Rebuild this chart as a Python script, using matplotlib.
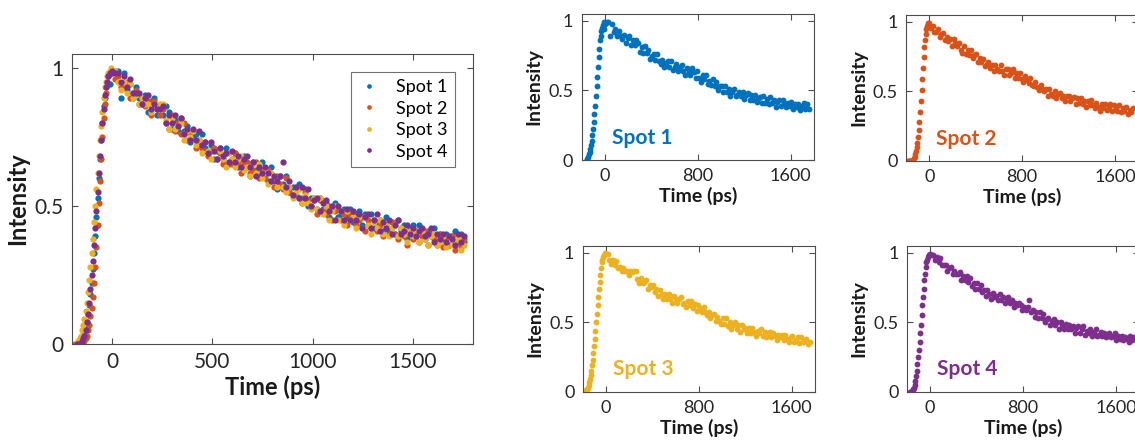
import numpy as np
import matplotlib
matplotlib.use("Agg")
import matplotlib.pyplot as plt

plt.rcParams['font.family'] = ['Lato', 'DejaVu Sans']

nan = np.nan

# time axis (ps): fine sampling over the rise, coarser over the decay
t_rise = [-186, -180, -174, -168, -162, -156, -150, -144, -138, -132,
          -126, -120, -114, -108, -102, -96, -90, -84, -78, -72,
          -66, -60, -54, -48, -42, -36, -30, -24, -18, -12,
          -6, 0]
t_decay = [15, 30, 45, 60, 75, 90, 105, 120, 135, 150,
           165, 180, 195, 210, 225, 240, 255, 270, 285, 300,
           315, 330, 345, 360, 375, 390, 405, 420, 435, 450,
           465, 480, 495, 510, 525, 540, 555, 570, 585, 600,
           615, 630, 645, 660, 675, 690, 705, 720, 735, 750,
           765, 780, 795, 810, 825, 840, 855, 870, 885, 900,
           915, 930, 945, 960, 975, 990, 1005, 1020, 1035, 1050,
           1065, 1080, 1095, 1110, 1125, 1140, 1155, 1170, 1185, 1200,
           1215, 1230, 1245, 1260, 1275, 1290, 1305, 1320, 1335, 1350,
           1365, 1380, 1395, 1410, 1425, 1440, 1455, 1470, 1485, 1500,
           1515, 1530, 1545, 1560, 1575, 1590, 1605, 1620, 1635, 1650,
           1665, 1680, 1695, 1710, 1725, 1740, 1755]

# normalised intensity, spot 1
spot1_rise = [nan, nan, nan, nan, nan, 0.00, 0.01, 0.02, 0.04, 0.06,
              0.08, 0.11, 0.14, 0.18, 0.22, 0.27, 0.33, 0.39, 0.46, 0.53,
              0.60, 0.67, 0.74, 0.80, 0.86, 0.89, 0.93, 0.95, 0.97, 0.94,
              0.99, 0.98]
spot1_decay = [0.99, 0.99, 0.89, 0.98, 0.92, 0.94, 0.89, 0.93, 0.89, 0.87,
               0.90, 0.84, 0.88, 0.89, 0.83, 0.86, 0.83, 0.86, 0.84, 0.78,
               0.81, 0.77, 0.82, 0.77, 0.79, 0.73, 0.75, 0.76, 0.72, 0.76,
               0.71, 0.69, 0.72, 0.67, 0.70, 0.71, 0.67, 0.71, 0.65, 0.67,
               0.69, 0.64, 0.67, 0.68, 0.64, 0.61, 0.66, 0.63, 0.61, 0.66,
               0.63, 0.59, 0.64, 0.59, 0.56, 0.61, 0.58, 0.61, 0.55, 0.57,
               0.54, 0.58, 0.53, 0.56, 0.50, 0.53, 0.53, 0.49, 0.53, 0.49,
               0.51, 0.46, 0.49, 0.51, 0.46, 0.47, 0.49, 0.46, 0.49, 0.44,
               0.47, 0.48, 0.43, 0.47, 0.43, 0.47, 0.42, 0.44, 0.45, 0.41,
               0.46, 0.41, 0.44, 0.40, 0.45, 0.41, 0.43, 0.38, 0.42, 0.43,
               0.39, 0.43, 0.41, 0.38, 0.41, 0.39, 0.42, 0.37, 0.40, 0.38,
               0.40, 0.36, 0.39, 0.41, 0.37, 0.40, 0.37]

# spot 2
spot2_rise = [0.00, 0.00, 0.00, 0.00, 0.00, 0.00, 0.00, 0.00, 0.01, 0.02,
              0.03, 0.05, 0.07, 0.10, 0.13, 0.17, 0.22, 0.28, 0.35, 0.43,
              0.51, 0.59, 0.67, 0.75, 0.82, 0.87, 0.91, 0.95, 0.97, 0.98,
              0.99, 0.99]
spot2_decay = [0.96, 0.97, 0.93, 0.93, 0.95, 0.89, 0.91, 0.92, 0.87, 0.89,
               0.86, 0.88, 0.83, 0.88, 0.85, 0.83, 0.85, 0.80, 0.78, 0.83,
               0.77, 0.80, 0.76, 0.80, 0.74, 0.76, 0.77, 0.71, 0.74, 0.71,
               0.73, 0.68, 0.70, 0.71, 0.67, 0.69, 0.65, 0.69, 0.66, 0.65,
               0.69, 0.65, 0.62, 0.66, 0.66, 0.62, 0.63, 0.66, 0.60, 0.63,
               0.60, 0.63, 0.59, 0.57, 0.61, 0.58, 0.56, 0.60, 0.55, 0.54,
               0.57, 0.53, 0.51, 0.55, 0.52, 0.50, 0.52, 0.47, 0.52, 0.48,
               0.47, 0.50, 0.45, 0.48, 0.49, 0.45, 0.47, 0.43, 0.47, 0.47,
               0.43, 0.45, 0.46, 0.41, 0.45, 0.42, 0.45, 0.41, 0.43, 0.39,
               0.43, 0.40, 0.44, 0.40, 0.38, 0.42, 0.39, 0.36, 0.41, 0.38,
               0.41, 0.37, 0.39, 0.41, 0.36, 0.40, 0.38, 0.36, 0.40, 0.35,
               0.38, 0.36, 0.39, 0.34, 0.37, 0.35, 0.38]

# spot 3
spot3_rise = [nan, nan, 0.00, 0.01, 0.02, 0.03, 0.05, 0.07, 0.09, 0.12,
              0.15, 0.19, 0.23, 0.28, 0.33, 0.38, 0.44, 0.50, 0.56, 0.62,
              0.68, 0.74, 0.79, 0.84, 0.89, 0.93, 0.95, 0.97, 0.98, 0.99,
              1.00, 0.99]
spot3_decay = [0.99, 0.95, 0.92, 0.95, 0.91, 0.94, 0.89, 0.90, 0.87, 0.89,
               0.87, 0.87, 0.84, 0.87, 0.86, 0.87, 0.87, 0.81, 0.78, 0.82,
               0.78, 0.79, 0.80, 0.74, 0.77, 0.75, 0.77, 0.72, 0.74, 0.69,
               0.73, 0.70, 0.67, 0.70, 0.67, 0.70, 0.67, 0.64, 0.69, 0.67,
               0.64, 0.67, 0.68, 0.63, 0.64, 0.61, 0.65, 0.62, 0.65, 0.60,
               0.63, 0.58, 0.62, 0.60, 0.57, 0.61, 0.57, 0.55, 0.57, 0.53,
               0.55, 0.56, 0.51, 0.54, 0.51, 0.49, 0.53, 0.49, 0.53, 0.47,
               0.50, 0.45, 0.48, 0.50, 0.45, 0.48, 0.43, 0.48, 0.45, 0.46,
               0.42, 0.46, 0.42, 0.46, 0.43, 0.40, 0.44, 0.42, 0.45, 0.40,
               0.43, 0.39, 0.42, 0.43, 0.39, 0.42, 0.40, 0.37, 0.41, 0.39,
               0.41, 0.37, 0.41, 0.38, 0.36, 0.39, 0.40, 0.36, 0.37, 0.39,
               0.35, 0.39, 0.36, 0.37, 0.38, 0.34, 0.36]

# spot 4
spot4_rise = [nan, nan, 0.00, 0.00, 0.00, 0.00, 0.01, 0.02, 0.03, 0.05,
              0.08, 0.11, 0.15, 0.20, 0.25, 0.30, 0.36, 0.42, 0.48, 0.55,
              0.62, 0.68, 0.74, 0.80, 0.85, 0.90, 0.93, 0.95, 0.97, 0.98,
              0.98, 0.99]
spot4_decay = [0.98, 0.98, 0.95, 0.97, 0.93, 0.96, 0.91, 0.91, 0.91, 0.87,
               0.89, 0.90, 0.85, 0.87, 0.85, 0.85, 0.86, 0.80, 0.83, 0.80,
               0.83, 0.79, 0.82, 0.76, 0.78, 0.74, 0.78, 0.74, 0.77, 0.72,
               0.73, 0.69, 0.73, 0.70, 0.67, 0.71, 0.68, 0.69, 0.66, 0.70,
               0.66, 0.68, 0.64, 0.67, 0.68, 0.64, 0.66, 0.61, 0.64, 0.62,
               0.64, 0.62, 0.59, 0.61, 0.59, 0.61, 0.66, 0.57, 0.59, 0.54,
               0.57, 0.53, 0.57, 0.53, 0.56, 0.50, 0.52, 0.53, 0.48, 0.51,
               0.52, 0.48, 0.50, 0.45, 0.50, 0.48, 0.45, 0.49, 0.45, 0.48,
               0.45, 0.47, 0.42, 0.46, 0.47, 0.42, 0.45, 0.47, 0.41, 0.44,
               0.42, 0.45, 0.40, 0.43, 0.45, 0.40, 0.41, 0.43, 0.40, 0.42,
               0.39, 0.41, 0.42, 0.39, 0.40, 0.42, 0.37, 0.40, 0.38, 0.40,
               0.37, 0.39, 0.38, 0.36, 0.40, 0.37, 0.39]

labels = ['Spot 1', 'Spot 2', 'Spot 3', 'Spot 4']
colors = ['#0072BD', '#D95319', '#EDB120', '#7E2F8E']

time = np.array(t_rise + t_decay, dtype=float)
spots = [np.array(spot1_rise + spot1_decay),
         np.array(spot2_rise + spot2_decay),
         np.array(spot3_rise + spot3_decay),
         np.array(spot4_rise + spot4_decay)]

EDGE = '#4d4d4d'
TEXT = '#262626'


def style_axes(ax, xticks, tick_fs, label_fs):
    ax.set_xlim(-200, 1800)
    ax.set_ylim(0, 1.05)
    ax.set_xticks(xticks)
    ax.set_yticks([0, 0.5, 1])
    ax.set_yticklabels(['0', '0.5', '1'])
    ax.tick_params(direction='in', top=True, right=True, length=4, width=0.8,
                   color=EDGE, labelcolor=TEXT, labelsize=tick_fs, pad=6)
    for s in ax.spines.values():
        s.set_color(EDGE)
        s.set_linewidth(0.8)
    ax.set_xlabel('Time (ps)', fontsize=label_fs, fontweight='bold', color='#1a1a1a', labelpad=2)
    ax.set_ylabel('Intensity', fontsize=label_fs, fontweight='bold', color='#1a1a1a', labelpad=4)


fig = plt.figure(figsize=(11.35, 4.44), dpi=100)

# all four spots overlaid
ax = fig.add_axes([0.0634, 0.2252, 0.3533, 0.6532])
for y, c, lab in zip(spots, colors, labels):
    ax.plot(time, y, 'o', ms=4.5, mew=0, color=c, label=lab)
style_axes(ax, [0, 500, 1000, 1500], 15, 17)
leg = ax.legend(loc='upper right', fontsize=13, markerscale=0.75, handletextpad=0.9,
                fancybox=False, edgecolor=EDGE, borderaxespad=1.0,
                labelspacing=0.3, handlelength=1.2, borderpad=0.4)
leg.get_frame().set_linewidth(0.8)

# one panel per spot
panel_pos = [[0.5125, 0.6396, 0.2047, 0.3288],
             [0.7982, 0.6374, 0.2047, 0.3288],
             [0.5134, 0.1178, 0.2047, 0.3288],
             [0.7989, 0.1178, 0.2047, 0.3288]]
for pos, y, c, lab in zip(panel_pos, spots, colors, labels):
    a = fig.add_axes(pos)
    a.plot(time, y, 'o', ms=4.2, mew=0, color=c)
    style_axes(a, [0, 800, 1600], 13, 14)
    a.text(60, 0.16, lab, color=c, fontsize=15, fontweight='bold', ha='left', va='center')

fig.savefig('out.png', dpi=100)
